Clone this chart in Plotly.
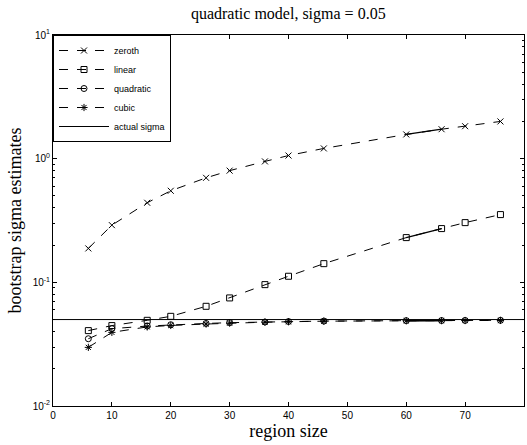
import plotly.graph_objects as go

region_size = [6, 10, 16, 20, 26, 30, 36, 40, 46, 60, 66, 70, 76]
zeroth = [0.188, 0.29, 0.44, 0.55, 0.70, 0.80, 0.95, 1.06, 1.21, 1.57, 1.73, 1.83, 2.0]
linear = [0.0407, 0.0447, 0.0493, 0.0531, 0.064, 0.0748, 0.0958, 0.112, 0.1416, 0.23, 0.272, 0.304, 0.353]
quadratic = [0.035, 0.0422, 0.0443, 0.0454, 0.0465, 0.0472, 0.0478, 0.0482, 0.0486, 0.049, 0.0491, 0.0492, 0.0493]
cubic = [0.0298, 0.0394, 0.0436, 0.0448, 0.0460, 0.0468, 0.0476, 0.0480, 0.0485, 0.0489, 0.0490, 0.0491, 0.0492]
actual_sigma = 0.05
x_range = [0, 80]

series = [
    ("zeroth", zeroth, "x-thin-open"),
    ("linear", linear, "square-open"),
    ("quadratic", quadratic, "circle-open"),
    ("cubic", cubic, "asterisk-open"),
]

fig = go.Figure()
for name, vals, sym in series:
    fig.add_trace(go.Scatter(
        x=region_size, y=vals, name=name, mode="lines+markers",
        line=dict(color="black", width=1, dash="dash"),
        marker=dict(symbol=sym, size=6, color="black", line=dict(color="black", width=1)),
    ))
for name, vals, sym in series:
    fig.add_trace(go.Scatter(
        x=region_size[9:11], y=vals[9:11], mode="lines", showlegend=False,
        line=dict(color="black", width=1.3), hoverinfo="skip",
    ))
fig.add_trace(go.Scatter(
    x=x_range, y=[actual_sigma, actual_sigma], name="actual sigma", mode="lines",
    line=dict(color="black", width=1),
))

minor_vals = [m * 10 ** e for e in (-2, -1, 0) for m in range(2, 10)]

fig.update_layout(
    width=527, height=445,
    margin=dict(l=53, r=3, t=35, b=39),
    paper_bgcolor="white", plot_bgcolor="white",
    title=dict(text="quadratic model, sigma = 0.05", x=0.547, xanchor="center",
               y=1 - 13 / 445, yanchor="middle",
               font=dict(family="Liberation Serif", size=16, color="black")),
    showlegend=True,
    legend=dict(x=0, y=1, xanchor="left", yanchor="top", bgcolor="white",
                bordercolor="black", borderwidth=1,
                font=dict(family="Liberation Sans", size=9, color="black"),
                tracegroupgap=0, itemwidth=50),
    font=dict(family="Liberation Sans", size=10, color="black"),
)
fig.update_xaxes(
    range=x_range, tickvals=[0, 10, 20, 30, 40, 50, 60, 70, 80], automargin=False,
    ticks="inside", ticklen=4, tickcolor="black", showline=True, linecolor="black", linewidth=1,
    mirror="ticks", showgrid=False, zeroline=False,
    tickfont=dict(family="Liberation Sans", size=10),
    title=dict(text="region size", font=dict(family="Liberation Serif", size=18), standoff=2),
)
fig.update_yaxes(
    type="log", range=[-2, 1], tickvals=[0.01, 0.1, 1, 10], automargin=False,
    ticktext=["10<sup>-2</sup>", "10<sup>-1</sup>", "10<sup>0</sup>", "10<sup>1</sup>"],
    ticks="inside", ticklen=4, tickcolor="black", showline=True, linecolor="black", linewidth=1,
    mirror="ticks", showgrid=False, zeroline=False,
    minor=dict(tickvals=minor_vals, ticks="inside", ticklen=2, tickcolor="black", showgrid=False),
    tickfont=dict(family="Liberation Sans", size=10),
    title=dict(text="bootstrap sigma estimates", font=dict(family="Liberation Serif", size=18), standoff=6),
)

fig.write_html("out.html", config={"displayModeBar": False},
               post_script="document.body.style.margin='0';document.body.style.overflow='hidden';")
